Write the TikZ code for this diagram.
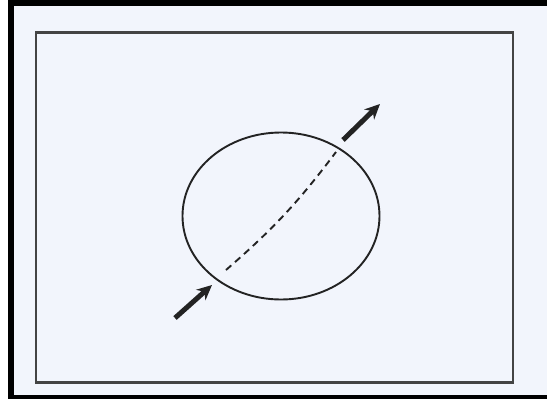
\documentclass[tikz,border=0pt]{standalone}
\usepackage{tikz}
\usetikzlibrary{shapes.geometric,arrows.meta}

\definecolor{paper}{RGB}{242,245,252}
\definecolor{ink}{RGB}{35,35,35}

\begin{document}
\begin{tikzpicture}[
  x=1pt, y=-1pt,
  frame/.style={
    draw=ink!85,
    line width=2.2pt,
    minimum width=477pt,
    minimum height=350pt,
    inner sep=0pt
  },
  disc/.style={
    ellipse,
    draw=ink,
    line width=1.9pt,
    minimum width=197pt,
    minimum height=167pt,
    inner sep=0pt
  },
  dashline/.style={draw=ink, line width=1.9pt, dash pattern=on 7pt off 5pt},
  arrow/.style={-{Stealth[length=15pt,width=14pt]}, draw=ink, line width=5pt}
]
\useasboundingbox (0,0) rectangle (547,399);
\fill[white] (0,0) rectangle (547,399);
\fill[paper] (8,0) rectangle (547,399);
% scan border
\draw[black, line width=6pt, line cap=round] (11,399) -- (11,3) -- (547,3);
\draw[black, line width=5pt] (8,397) -- (547,397);

\node[frame] (box) at (274.5,207.5) {};
\node[disc] (disc) at (281,216) {};

\coordinate (inA) at (175,318);
\coordinate (inB) at (212,285);
\coordinate (dashA) at (226,270);
\coordinate (dashB) at (336,152);
\coordinate (outA) at (343,140);
\coordinate (outB) at (380,104);

\draw[arrow] (inA) -- (inB);
\draw[dashline] (dashA) to[bend right=6] (dashB);
\draw[arrow] (outA) -- (outB);
\end{tikzpicture}
\end{document}
